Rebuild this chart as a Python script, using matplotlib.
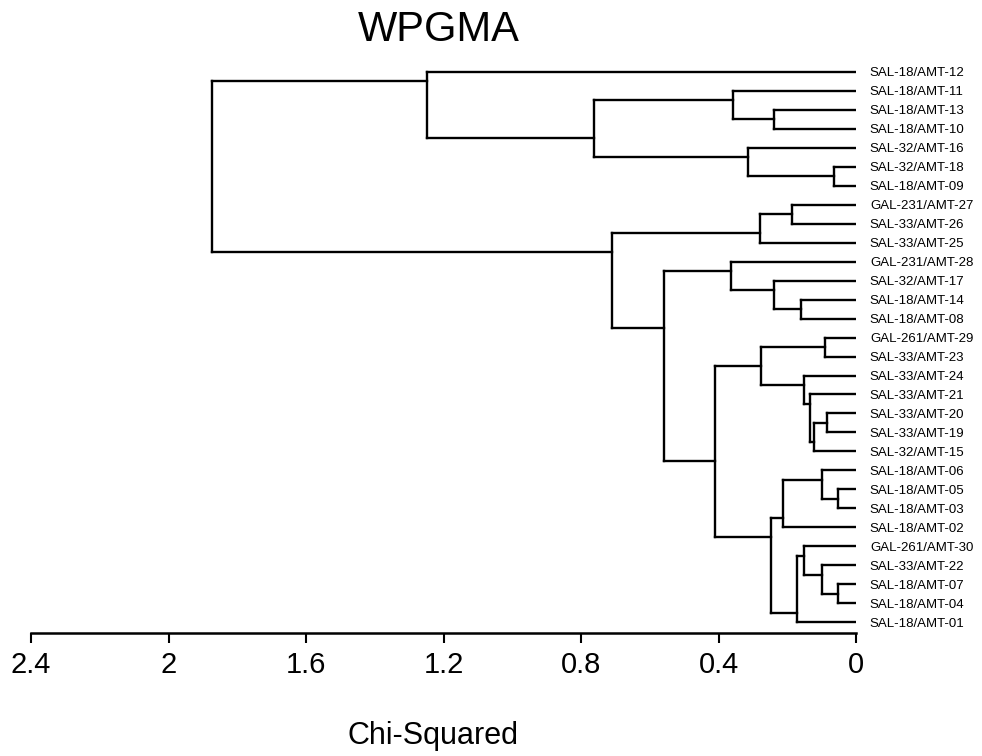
import matplotlib
matplotlib.use("Agg")
import matplotlib.pyplot as plt

plt.rcParams['font.family'] = ['Liberation Sans', 'DejaVu Sans']

# leaf labels, top to bottom
labels = [
    "SAL-18/AMT-12", "SAL-18/AMT-11", "SAL-18/AMT-13", "SAL-18/AMT-10",
    "SAL-32/AMT-16", "SAL-32/AMT-18", "SAL-18/AMT-09", "GAL-231/AMT-27",
    "SAL-33/AMT-26", "SAL-33/AMT-25", "GAL-231/AMT-28", "SAL-32/AMT-17",
    "SAL-18/AMT-14", "SAL-18/AMT-08", "GAL-261/AMT-29", "SAL-33/AMT-23",
    "SAL-33/AMT-24", "SAL-33/AMT-21", "SAL-33/AMT-20", "SAL-33/AMT-19",
    "SAL-32/AMT-15", "SAL-18/AMT-06", "SAL-18/AMT-05", "SAL-18/AMT-03",
    "SAL-18/AMT-02", "GAL-261/AMT-30", "SAL-33/AMT-22", "SAL-18/AMT-07",
    "SAL-18/AMT-04", "SAL-18/AMT-01",
]

# merges: (upper child, lower child, height); new node ids start at 30
merge_left = [22, 27, 5, 18, 14, 21, 26, 33, 17, 25, 16, 12, 39, 7, 35,
              2, 11, 44, 34, 43, 4, 1, 10, 48, 52, 49, 51, 0, 57]
merge_right = [23, 28, 6, 19, 15, 30, 31, 20, 37, 36, 38, 13, 29, 8, 24,
               3, 41, 42, 40, 9, 32, 45, 46, 47, 53, 54, 50, 56, 55]
merge_height = [0.052, 0.053, 0.063, 0.085, 0.089, 0.099, 0.100, 0.121,
                0.133, 0.151, 0.152, 0.160, 0.173, 0.187, 0.212, 0.238,
                0.238, 0.246, 0.277, 0.279, 0.314, 0.359, 0.364, 0.410,
                0.558, 0.709, 0.763, 1.247, 1.874]

xticks = [2.4, 2.0, 1.6, 1.2, 0.8, 0.4, 0.0]
xticklabels = ["2.4", "2", "1.6", "1.2", "0.8", "0.4", "0"]

n = len(labels)
pos = {i: float(i) for i in range(n)}
height = {i: 0.0 for i in range(n)}
last_leaf = {i: i for i in range(n)}

fig = plt.figure(figsize=(9.82, 7.56), dpi=100)
ax = fig.add_axes([31 / 982, 1 - 633 / 756, 825 / 982, 573 / 756])

lw = 1.7
for k, (a, b, h) in enumerate(zip(merge_left, merge_right, merge_height)):
    node = n + k
    # vertical link between the two children
    ax.plot([h, h], [pos[a], pos[b]], color="black", lw=lw, solid_capstyle="projecting")
    # horizontal links to each child
    for c in (a, b):
        ax.plot([h, height[c]], [pos[c], pos[c]], color="black", lw=lw,
                solid_capstyle="projecting")
    # node sits at the boundary between the two children
    pos[node] = last_leaf[a] + 0.5
    last_leaf[node] = last_leaf[b]
    height[node] = h

ax.set_xlim(2.4, 0)
ax.set_ylim((633 - 72) / 18.97, (60 - 72) / 18.97)

ax.set_xticks(xticks)
ax.set_xticklabels(xticklabels, fontsize=21)
ax.tick_params(axis="x", direction="out", length=7, width=1.5, pad=6)

ax.yaxis.tick_right()
ax.set_yticks(range(n))
ax.set_yticklabels(labels, fontsize=9.5)
ax.tick_params(axis="y", length=0, pad=10)

for s in ["left", "top", "right"]:
    ax.spines[s].set_visible(False)
ax.spines["bottom"].set_linewidth(1.8)

fig.text(439 / 982, 1 - 30 / 756, "WPGMA", fontsize=30, ha="center", va="center")
fig.text(433 / 982, 1 - 736 / 756, "Chi-Squared", fontsize=22, ha="center", va="center")

fig.savefig("out.png", dpi=100)
